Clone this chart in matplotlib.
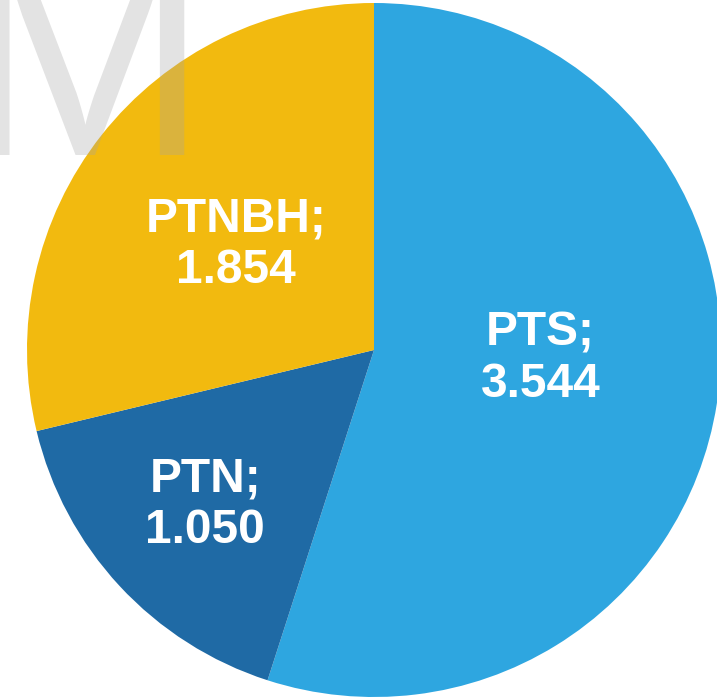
import numpy as np
import matplotlib
import matplotlib.pyplot as plt

matplotlib.use('Agg')

categorias = ['PTS', 'PTN', 'PTNBH']
valores = [3.544, 1.050, 1.854]
etiquetas = ['3.544', '1.050', '1.854']
colores = ['#2EA6E0', '#1F6AA5', '#F2BA0F']
# distancia de cada etiqueta al centro (en radios) y giro respecto al centro de la porcion
distancias = [0.48, 0.66, 0.50]
giros = [6, -0.3, 0.8]

fig = plt.figure(figsize=(7.17, 6.98), dpi=100)
ax = fig.add_axes([27 / 717, 1 / 698, 694 / 717, 694 / 698])

wedges, _ = ax.pie(valores, colors=colores, startangle=90, counterclock=False,
                   wedgeprops=dict(linewidth=0))
ax.set_xlim(-1, 1)
ax.set_ylim(-1, 1)
ax.set_aspect('equal')
ax.axis('off')

# etiquetas dentro de cada porcion
for w, cat, lab, d, g in zip(wedges, categorias, etiquetas, distancias, giros):
    ang = np.deg2rad((w.theta1 + w.theta2) / 2 + g)
    ax.text(d * np.cos(ang), d * np.sin(ang), f'{cat};\n{lab}',
            ha='center', va='center', color='white', fontsize=34.5,
            fontweight='bold', family='Liberation Sans', linespacing=1.18)

# marca de agua
fig.text(-39 / 717, 1 - 155 / 698, 'M', ha='left', va='baseline',
         fontsize=214, color='#A5A5A5', alpha=0.31, family='Liberation Sans',
         zorder=5)

fig.savefig('out.png', dpi=100)
